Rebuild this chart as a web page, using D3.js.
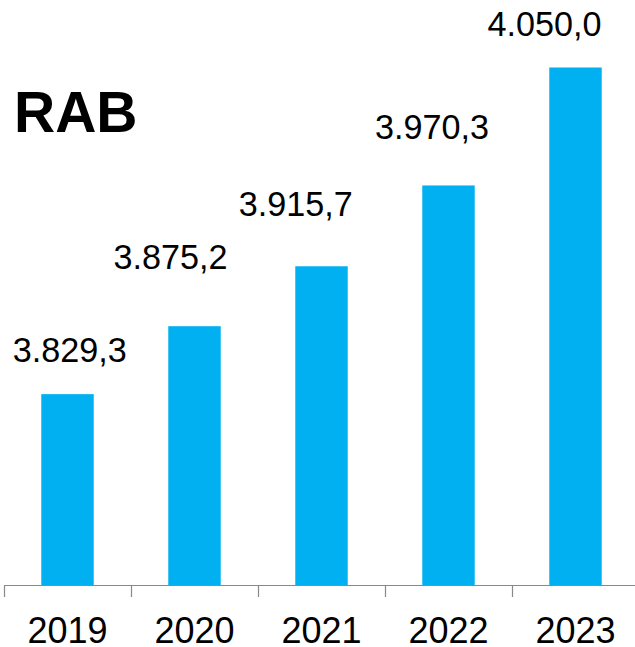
<!DOCTYPE html>
<html><head><meta charset="utf-8">
<script src="https://cdn.jsdelivr.net/npm/d3@7/dist/d3.min.js"></script>
<style>body{margin:0;background:#fff}svg{display:block}</style>
</head><body>
<svg id="c" width="635" height="647"></svg>
<script>
const categories = ["2019","2020","2021","2022","2023"];
const values = [3829.3, 3875.2, 3915.7, 3970.3, 4050.0];
const valueLabels = ["3.829,3","3.875,2","3.915,7","3.970,3","4.050,0"];
const title = "RAB";

const svg = d3.select("#c");
const baseY = 585.5;
const x = d3.scaleBand().domain(categories).range([4, 639]).paddingInner(0.587).paddingOuter(0.2935);
const y = d3.scaleLinear().domain([3700, 4100]).range([baseY, -6.5]);

svg.selectAll("rect.bar").data(values).join("rect")
  .attr("class","bar")
  .attr("x",(d,i)=>x(categories[i]))
  .attr("width",x.bandwidth())
  .attr("y",d=>y(d))
  .attr("height",d=>baseY-y(d))
  .attr("fill","#00b0f0");

// manual label placement as in the original (offset from bar centre / bar top)
const labelLayout = [[2.2, 31.7],[-24, 57],[-25.7, 50.3],[-16.5, 46],[-31, 31.6]];
svg.selectAll("text.val").data(values).join("text")
  .attr("class","val")
  .attr("x",(d,i)=>x(categories[i])+x.bandwidth()/2+labelLayout[i][0])
  .attr("y",(d,i)=>y(d)-labelLayout[i][1])
  .attr("text-anchor","middle")
  .attr("font-family","Liberation Sans, Arial, sans-serif")
  .attr("font-size",34.2)
  .attr("fill","#000")
  .text((d,i)=>valueLabels[i]);

// axis
const axisG = svg.append("g");
axisG.append("line").attr("x1",4).attr("x2",635).attr("y1",baseY).attr("y2",baseY)
  .attr("stroke","#898989").attr("stroke-width",1.2);
const step = x.step();
const boundaries = categories.map(c=>x(c) - x.paddingInner()*step/2).concat([x(categories[categories.length-1]) + x.bandwidth() + x.paddingInner()*step/2]);
axisG.selectAll("line.tick").data(boundaries).join("line")
  .attr("class","tick")
  .attr("x1",d=>Math.round(d)+0.5).attr("x2",d=>Math.round(d)+0.5)
  .attr("y1",baseY).attr("y2",597)
  .attr("stroke","#898989").attr("stroke-width",1.2);

axisG.selectAll("text.cat").data(categories).join("text")
  .attr("class","cat")
  .attr("x",d=>x(d)+x.bandwidth()/2)
  .attr("y",642.5)
  .attr("text-anchor","middle")
  .attr("font-family","Liberation Sans, Arial, sans-serif")
  .attr("font-size",36)
  .attr("fill","#000")
  .text(d=>d);

svg.append("text").attr("x",14).attr("y",132.3)
  .attr("font-family","Liberation Sans, Arial, sans-serif")
  .attr("font-weight","bold")
  .attr("font-size",57)
  .attr("fill","#000")
  .text(title);
</script>
</body></html>
